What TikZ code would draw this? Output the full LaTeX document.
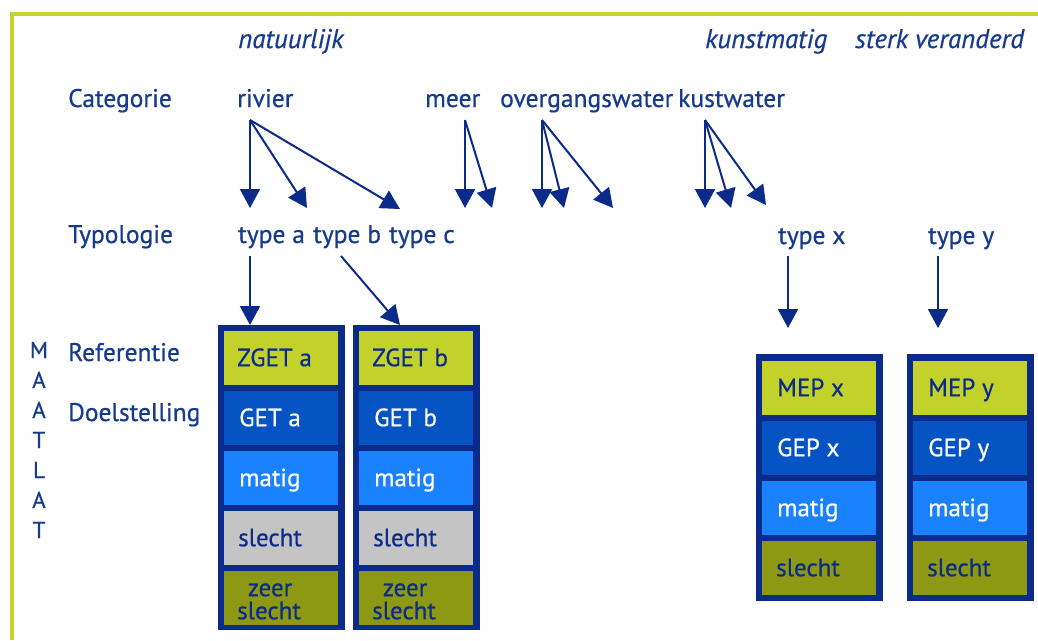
\documentclass[tikz,border=0pt]{standalone}
\usepackage{fontspec}
\setmainfont{PT Sans}[FakeBold=0.6]
\usetikzlibrary{arrows.meta}
\definecolor{navy}{HTML}{0B2B8B}
\definecolor{inktext}{HTML}{163A8E}
\definecolor{limeband}{HTML}{C4D42C}
\definecolor{refcell}{HTML}{C3D22A}
\definecolor{getcell}{HTML}{0653C4}
\definecolor{matigcell}{HTML}{1A82FF}
\definecolor{slechtcell}{HTML}{C4C4C4}
\definecolor{zeercell}{HTML}{8D9912}
\tikzset{
  lbl/.style={anchor=base west, inner sep=0, text=inktext, font=\fontsize{25.5}{28}\selectfont},
  hdr/.style={anchor=base west, inner sep=0, text=inktext, font=\fontsize{27}{30}\selectfont\itshape},
  letter/.style={anchor=base, inner sep=0, text=inktext, font=\fontsize{23}{26}\selectfont},
  frame/.style={anchor=north west, fill=navy, draw=none, minimum width=127, minimum height=#1, inner sep=0},
  cell/.style={anchor=north west, fill=#1, draw=none, minimum width=114, minimum height=54, inner sep=0},
  celltxt/.style={anchor=base west, inner sep=0, font=\fontsize{25}{21}\selectfont, text=#1},
  arr/.style={navy, line width=2, -{Triangle[length=19pt,width=20pt]}}
}
\begin{document}
\begin{tikzpicture}[x=1pt,y=-1pt]
\useasboundingbox (0,0) rectangle (1038,640);
\fill[white] (0,0) rectangle (1038,640);
% lime border along the top and the left side
\draw[limeband, line width=4] (11.5,640) -- (11.5,14) -- (1038,14);

% column headings
\node[hdr] (nat) at (238,48) {natuurlijk};
\node[hdr] (kun) at (705,48) {kunstmatig};
\node[hdr] (ster) at (855,48) {sterk veranderd};

% row labels
\node[lbl] (cat) at (68,107) {Categorie};
\node[lbl] (typ) at (68,243) {Typologie};
\node[lbl] (ref) at (68,361) {Referentie};
\node[lbl] (doel) at (68,421) {Doelstelling};

% vertical word MAATLAT
\foreach \ch [count=\i] in {M,A,A,T,L,A,T}
  \node[letter] (ml\i) at (39,{328+30*\i}) {\ch};

% categories
\node[lbl] (riv) at (237,107) {rivier};
\node[lbl] (meer) at (425,107) {meer};
\node[lbl] (overg) at (500,107) {overgangswater};
\node[lbl] (kust) at (678,107) {kustwater};

% types
\node[lbl] (ta) at (238,243) {type a};
\node[lbl] (tb) at (313,243) {type b};
\node[lbl] (tc) at (389,243) {type c};
\node[lbl] (tx) at (778,244) {type x};
\node[lbl] (ty) at (928,244) {type y};

% arrow origins and free ends
\coordinate (rivO) at (250,120);
\coordinate (meerO) at (465,120);
\coordinate (overgO) at (542,120);
\coordinate (kustO) at (705,120);
\coordinate (r1) at (250,208);
\coordinate (r2) at (307,208);
\coordinate (r3) at (400,209);
\coordinate (m1) at (465,208);
\coordinate (m2) at (492,208);
\coordinate (o1) at (542,208);
\coordinate (o2) at (564,208);
\coordinate (o3) at (613,208);
\coordinate (k1) at (705,208);
\coordinate (k2) at (731,208);
\coordinate (k3) at (766,205);
\coordinate (taO) at (250,256);
\coordinate (tbO) at (341,256);
\coordinate (txO) at (788,256);
\coordinate (tyO) at (938,256);
\coordinate (xEnd) at (788,328);
\coordinate (yEnd) at (938,328);

\draw[arr] (rivO) -- (r1);
\draw[arr] (rivO) -- (r2);
\draw[arr] (rivO) -- (r3);
\draw[arr] (meerO) -- (m1);
\draw[arr] (meerO) -- (m2);
\draw[arr] (overgO) -- (o1);
\draw[arr] (overgO) -- (o2);
\draw[arr] (overgO) -- (o3);
\draw[arr] (kustO) -- (k1);
\draw[arr] (kustO) -- (k2);
\draw[arr] (kustO) -- (k3);

% assessment columns, natural waters
\node[frame=305] (colA) at (218,325) {};
\node[frame=305] (colB) at (353,325) {};
\node[cell=refcell] (a1) at (224,331) {};
\node[cell=getcell] (a2) at (224,391) {};
\node[cell=matigcell] (a3) at (224,451) {};
\node[cell=slechtcell] (a4) at (224,511) {};
\node[cell=zeercell] (a5) at (224,571) {};
\node[cell=refcell] (b1) at (359,331) {};
\node[cell=getcell] (b2) at (359,391) {};
\node[cell=matigcell] (b3) at (359,451) {};
\node[cell=slechtcell] (b4) at (359,511) {};
\node[cell=zeercell] (b5) at (359,571) {};

\node[celltxt=navy] at ([shift={(13,8)}]a1.west) {ZGET a};
\node[celltxt=white] at ([shift={(15,8)}]a2.west) {GET a};
\node[celltxt=white] at ([shift={(15,8)}]a3.west) {matig};
\node[celltxt=navy] at ([shift={(14,8)}]a4.west) {slecht};
\node[celltxt=navy, anchor=base] at ([shift={(46,-2)}]a5.west) {zeer};
\node[celltxt=navy] at ([shift={(13,21)}]a5.west) {slecht};
\node[celltxt=navy] at ([shift={(13,8)}]b1.west) {ZGET b};
\node[celltxt=white] at ([shift={(15,8)}]b2.west) {GET b};
\node[celltxt=white] at ([shift={(15,8)}]b3.west) {matig};
\node[celltxt=navy] at ([shift={(14,8)}]b4.west) {slecht};
\node[celltxt=navy, anchor=base] at ([shift={(46,-2)}]b5.west) {zeer};
\node[celltxt=navy] at ([shift={(13,21)}]b5.west) {slecht};

% assessment columns, artificial and heavily modified waters
\node[frame=247] (colX) at (756,354) {};
\node[frame=247] (colY) at (907,354) {};
\node[cell=refcell] (x1) at (762,361) {};
\node[cell=getcell] (x2) at (762,421) {};
\node[cell=matigcell] (x3) at (762,481) {};
\node[cell=zeercell] (x4) at (762,541) {};
\node[cell=refcell] (y1) at (913,361) {};
\node[cell=getcell] (y2) at (913,421) {};
\node[cell=matigcell] (y3) at (913,481) {};
\node[cell=zeercell] (y4) at (913,541) {};

\node[celltxt=navy] at ([shift={(15,8)}]x1.west) {MEP x};
\node[celltxt=white] at ([shift={(15,8)}]x2.west) {GEP x};
\node[celltxt=white] at ([shift={(15,8)}]x3.west) {matig};
\node[celltxt=navy] at ([shift={(14,8)}]x4.west) {slecht};
\node[celltxt=navy] at ([shift={(15,8)}]y1.west) {MEP y};
\node[celltxt=white] at ([shift={(15,8)}]y2.west) {GEP y};
\node[celltxt=white] at ([shift={(15,8)}]y3.west) {matig};
\node[celltxt=navy] at ([shift={(14,8)}]y4.west) {slecht};

% arrows from the types to their columns
\draw[arr] (taO) -- ([xshift=32]colA.north west);
\draw[arr] (tbO) -- ([xshift=47]colB.north west);
\draw[arr] (txO) -- (xEnd);
\draw[arr] (tyO) -- (yEnd);
\end{tikzpicture}
\end{document}
